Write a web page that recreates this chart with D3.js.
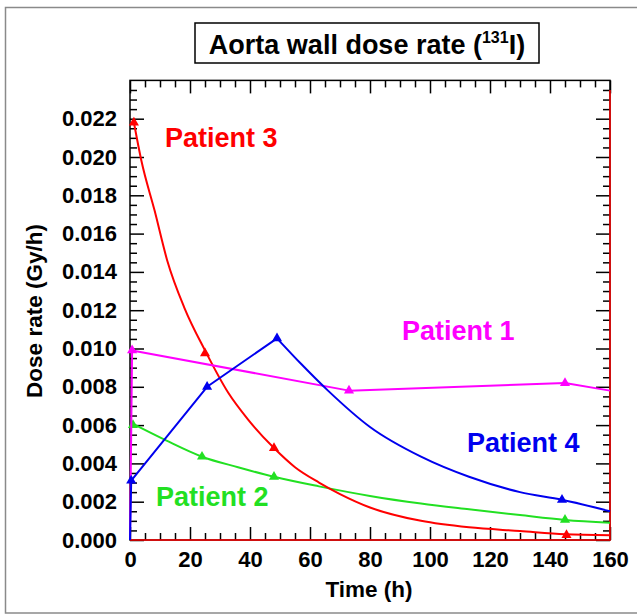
<!DOCTYPE html>
<html>
<head>
<meta charset="utf-8">
<script src="https://cdn.jsdelivr.net/npm/d3@7"></script>
<style>
  body { margin: 0; background: #fff; }
  svg { display: block; font-family: "Liberation Sans", Arial, sans-serif; font-weight: bold; }
</style>
</head>
<body>
<svg id="chart" width="637" height="616"></svg>
<script>
// Tick values for both axes
var timeTicks = [0, 20, 40, 60, 80, 100, 120, 140, 160];
var doseTicks = [0, 0.002, 0.004, 0.006, 0.008, 0.010, 0.012, 0.014, 0.016, 0.018, 0.020, 0.022];
var timeMinor = [5, 10, 15, 25, 30, 35, 45, 50, 55, 65, 70, 75, 85, 90, 95, 105, 110, 115, 125, 130, 135, 145, 150, 155];
var doseMinor = [0.0005, 0.001, 0.0015, 0.0025, 0.003, 0.0035, 0.0045, 0.005, 0.0055, 0.0065, 0.007, 0.0075,
  0.0085, 0.009, 0.0095, 0.0105, 0.011, 0.0115, 0.0125, 0.013, 0.0135, 0.0145, 0.015, 0.0155,
  0.0165, 0.017, 0.0175, 0.0185, 0.019, 0.0195, 0.0205, 0.021, 0.0215, 0.0225, 0.023, 0.0235];

// Patient 1 (magenta): [time h, dose rate Gy/h]
var p1Curve = [[0, 0], [0.7, 0.0099], [73, 0.0078], [145, 0.0082], [160, 0.0078]];
var p1Marks = [[0.7, 0.0099], [73, 0.0078], [145, 0.0082]];

// Patient 2 (green)
var p2Curve = [[0.5, 0.0061], [12, 0.0052], [24, 0.00435], [36, 0.0038], [48, 0.0033], [63, 0.0028],
  [80, 0.0023], [97, 0.0019], [113, 0.0016], [130, 0.0013], [145, 0.00105], [160, 0.0009]];
var p2Marks = [[1, 0.0060], [24, 0.00435], [48, 0.0033], [145, 0.00105]];

// Patient 3 (red)
var p3Curve = [[1.3, 0.0218], [3.8, 0.0198], [8.2, 0.0172], [12.4, 0.0146], [18.2, 0.0121], [25, 0.0099],
  [32.7, 0.0077], [39.3, 0.0063], [48, 0.0048], [55, 0.0038], [63, 0.0030], [70, 0.0024], [80, 0.0017],
  [97, 0.0010], [113, 0.00066], [130, 0.00047], [145, 0.0003], [160, 0.00025]];
var p3Marks = [[1.3, 0.0218], [25, 0.00975], [48, 0.0048], [145.5, 0.00026]];

// Patient 4 (blue): straight rise up to the peak, then a smooth decay
var p4Rise = [[0, 0], [0.4, 0.0031], [25.7, 0.0080], [49, 0.01053]];
var p4Decay = [[49, 0.01053], [57, 0.0092], [66, 0.0078], [80, 0.0059], [97, 0.00435], [113, 0.0033],
  [130, 0.0025], [144, 0.0021], [160, 0.0015]];
var p4Marks = [[0.4, 0.0031], [25.7, 0.0080], [49, 0.01053], [144, 0.0021]];

var svg = d3.select("#chart");
var x = d3.scaleLinear().domain([0, 160]).range([130, 610]);
var y = d3.scaleLinear().domain([0, 0.024]).range([540, 80.4]);

// outer gray frame (runs off the right edge like the picture)
svg.append("rect").attr("x", 5.5).attr("y", 7.5).attr("width", 700).attr("height", 605.5)
  .attr("fill", "none").attr("stroke", "#8a8a8a").attr("stroke-width", 1.5);

// title box
svg.append("rect").attr("x", 195).attr("y", 23).attr("width", 344).attr("height", 40)
  .attr("fill", "#fff").attr("stroke", "#000").attr("stroke-width", 1.5);
var title = svg.append("text").attr("x", 367).attr("y", 54).attr("text-anchor", "middle")
  .attr("font-size", 27);
title.append("tspan").text("Aorta wall dose rate (");
title.append("tspan").attr("font-size", 16).attr("dy", -11).text("131");
title.append("tspan").attr("dy", 11).text("I)");

// ticks, all pointing inward
function styleAxis(g){
  g.select(".domain").remove();
  g.selectAll(".tick line").attr("stroke", "#000").attr("stroke-width", 1.5);
  g.selectAll(".tick text").attr("fill", "#000").attr("font-size", 22)
    .attr("font-family", "Liberation Sans, Arial, sans-serif").attr("font-weight", "bold");
}
svg.append("g").attr("transform", "translate(0,540)")
  .call(d3.axisBottom(x).tickValues(timeTicks).tickSize(-13).tickPadding(11).tickFormat(d3.format("d")))
  .call(styleAxis);
svg.append("g").attr("transform", "translate(0,540)")
  .call(d3.axisBottom(x).tickValues(timeMinor).tickSize(-7).tickFormat(""))
  .call(styleAxis);
svg.append("g").attr("transform", "translate(0," + y.range()[1] + ")")
  .call(d3.axisTop(x).tickValues(timeTicks).tickSize(-13).tickFormat(""))
  .call(styleAxis);
svg.append("g").attr("transform", "translate(0," + y.range()[1] + ")")
  .call(d3.axisTop(x).tickValues(timeMinor).tickSize(-7).tickFormat(""))
  .call(styleAxis);
svg.append("g").attr("transform", "translate(130,0)")
  .call(d3.axisLeft(y).tickValues(doseTicks).tickSize(-14).tickPadding(13).tickFormat(d3.format(".3f")))
  .call(styleAxis);
svg.append("g").attr("transform", "translate(130,0)")
  .call(d3.axisLeft(y).tickValues(doseMinor).tickSize(-7).tickFormat(""))
  .call(styleAxis);
svg.append("g").attr("transform", "translate(610,0)")
  .call(d3.axisRight(y).tickValues(doseTicks).tickSize(-14).tickFormat(""))
  .call(styleAxis);
svg.append("g").attr("transform", "translate(610,0)")
  .call(d3.axisRight(y).tickValues(doseMinor).tickSize(-7).tickFormat(""))
  .call(styleAxis);

// plot frame
svg.append("rect").attr("x", 130).attr("y", y.range()[1]).attr("width", 480).attr("height", 540 - y.range()[1])
  .attr("fill", "none").attr("stroke", "#000").attr("stroke-width", 1.5);
// red overlay on the bottom and right frame sides, as in the original plot
svg.append("path")
  .attr("d", "M" + x(0) + "," + y(0) + "H" + x(160) + "V" + y(0.0235))
  .attr("fill", "none").attr("stroke", "#ff0000").attr("stroke-width", 1.5);

// series, drawn green, red, magenta, blue (blue ends up on top)
var series = [
  {parts: [[p2Curve, d3.curveMonotoneX]], marks: p2Marks, color: "#22e022"},
  {parts: [[p3Curve, d3.curveMonotoneX]], marks: p3Marks, color: "#ff0000"},
  {parts: [[p1Curve, d3.curveLinear]], marks: p1Marks, color: "#ff00ff"},
  {parts: [[p4Rise, d3.curveLinear], [p4Decay, d3.curveMonotoneX]], marks: p4Marks, color: "#0000ee"}
];
var tri = d3.symbol().type(d3.symbolTriangle).size(44);
series.forEach(function(s){
  s.parts.forEach(function(p){
    var line = d3.line().x(function(d){ return x(d[0]); }).y(function(d){ return y(d[1]); }).curve(p[1]);
    svg.append("path").datum(p[0]).attr("d", line)
      .attr("fill", "none").attr("stroke", s.color).attr("stroke-width", 2)
      .attr("stroke-linejoin", "round");
  });
  svg.append("g").selectAll("path").data(s.marks).enter().append("path")
    .attr("d", tri)
    .attr("transform", function(d){ return "translate(" + x(d[0]) + "," + y(d[1]) + ")"; })
    .attr("fill", s.color);
});

// patient labels
var labels = [
  {text: "Patient 3", x: 165, y: 147, color: "#ff0000"},
  {text: "Patient 1", x: 402, y: 340, color: "#ff00ff"},
  {text: "Patient 4", x: 467, y: 452, color: "#0000ee"},
  {text: "Patient 2", x: 156, y: 506, color: "#22e022"}
];
svg.selectAll(".plabel").data(labels).enter().append("text")
  .attr("class", "plabel")
  .attr("x", function(d){ return d.x; }).attr("y", function(d){ return d.y; })
  .attr("font-size", 27).attr("fill", function(d){ return d.color; })
  .text(function(d){ return d.text; });

// axis titles
svg.append("text").attr("x", 369).attr("y", 597).attr("text-anchor", "middle")
  .attr("font-size", 22.5).text("Time (h)");
svg.append("text").attr("transform", "translate(42,311) rotate(-90)").attr("text-anchor", "middle")
  .attr("font-size", 22.5).text("Dose rate (Gy/h)");
</script>
</body>
</html>
